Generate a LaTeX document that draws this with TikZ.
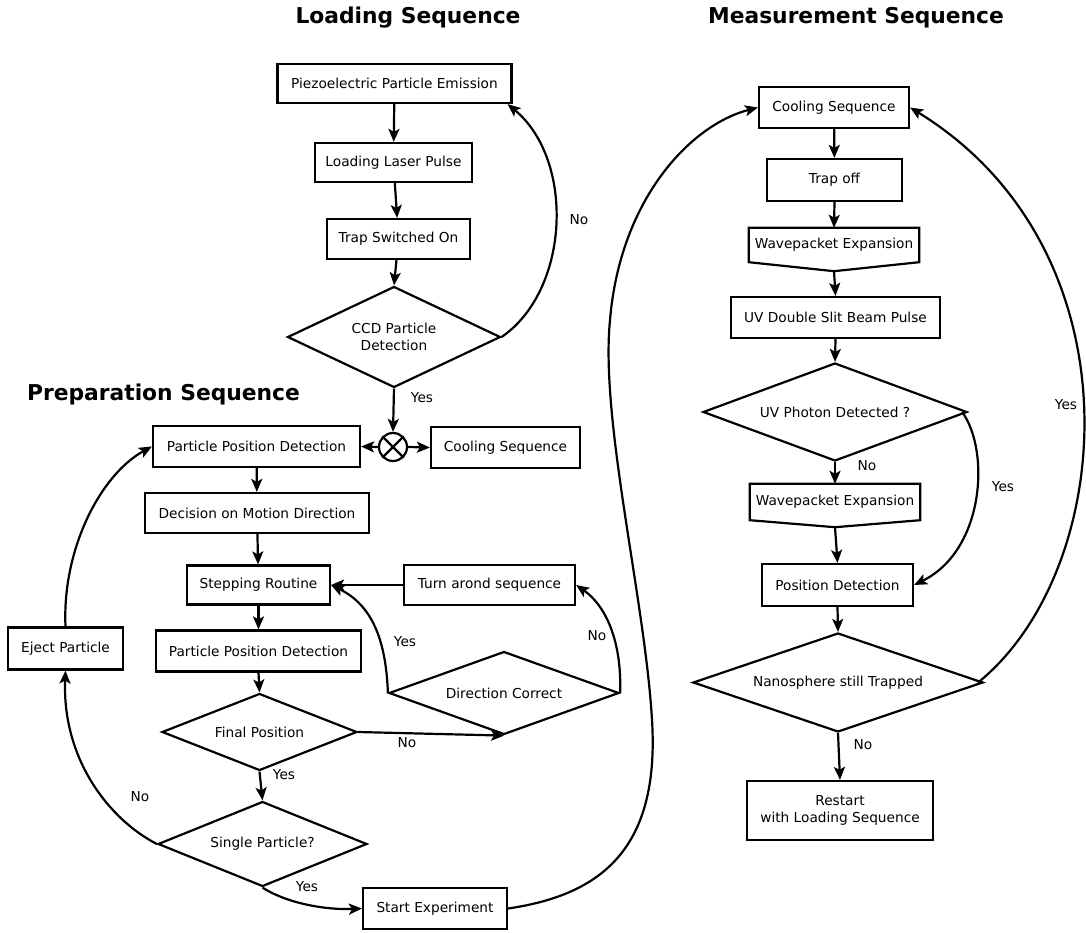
\documentclass[tikz,border=0pt]{standalone}
\usepackage{fontspec}
\setmainfont{DejaVu Sans}
\usetikzlibrary{shapes.geometric,arrows.meta,calc}
\newcommand\mytxt{\fontsize{13.7}{16.5}\selectfont}
\newcommand\mytitle{\fontsize{21.8}{26}\selectfont\bfseries}
\tikzset{
  ln/.style={line width=2.2pt},
  bx/.style 2 args={draw,ln,rectangle,inner sep=0pt,font=\mytxt,align=center,
    minimum width=#1pt,minimum height=#2pt},
  dm/.style 2 args={draw,ln,diamond,shape aspect=2.5,inner sep=0pt,font=\mytxt,align=center,
    minimum width=#1pt,minimum height=#2pt},
  wp/.style={rectangle,inner sep=0pt,font=\mytxt,minimum width=170pt},
  lbl/.style={inner sep=0pt,font=\mytxt},
  title/.style={inner sep=0pt,font=\mytitle},
  arr/.style={ln,-{Stealth[length=13pt,width=11pt,inset=3pt]}},
}
\begin{document}
\begin{tikzpicture}[x=1pt,y=-1pt]
\useasboundingbox (0,0) rectangle (1086,933);
% titles
\node[title] (tL) at (408,18) {Loading Sequence};
\node[title] (tM) at (856,18) {Measurement Sequence};
\node[title] (tP) at (163.5,394) {Preparation Sequence};
% loading
\node[bx={234}{39}] (piezo) at (394.5,83.5) {Piezoelectric Particle Emission};
\node[bx={157}{39}] (laser) at (393.5,162.5) {Loading Laser Pulse};
\node[bx={143}{40}] (trapon) at (398.5,239) {Trap Switched On};
\node[dm={213}{101}] (ccd) at (394,337) {CCD Particle\\Detection};
\node[draw,ln,circle,minimum size=28pt,inner sep=0pt] (xo) at (393,447) {};
\draw[ln] (xo.north west) -- (xo.south east) (xo.north east) -- (xo.south west);
% preparation
\node[bx={207}{41}] (ppd1) at (256.5,446.5) {Particle Position Detection};
\node[bx={149}{41}] (cool1) at (505.5,447.5) {Cooling Sequence};
\node[bx={224}{40}] (dmd) at (257,513) {Decision on Motion Direction};
\node[bx={143}{39}] (step) at (258.5,585) {Stepping Routine};
\node[bx={171}{40}] (turn) at (489.5,585) {Turn arond sequence};
\node[bx={205}{41}] (ppd2) at (258.5,651) {Particle Position Detection};
\node[bx={115}{42}] (eject) at (65.5,648.5) {Eject Particle};
\node[dm={195}{77}] (fpos) at (259.5,732) {Final Position};
\node[dm={230}{83}] (dcor) at (504,693) {Direction Correct};
\node[dm={209}{85}] (single) at (262.5,844) {Single Particle?};
\node[bx={144}{41}] (start) at (435,908.5) {Start Experiment};
% measurement
\node[bx={150}{41}] (cool2) at (834,107.5) {Cooling Sequence};
\node[bx={135}{42}] (trapoff) at (834.5,180) {Trap off};
\node[wp,minimum height=34pt] (we1) at (834,245) {Wavepacket Expansion};
\coordinate (we1p) at ([yshift=-9pt]we1.south);
\draw[ln] (we1.north west) -- (we1.north east) -- (we1.south east) -- (we1p) -- (we1.south west) -- cycle;
\node[bx={209}{41}] (uvds) at (835.5,317.5) {UV Double Slit Beam Pulse};
\node[dm={264}{98}] (uvph) at (835,412) {UV Photon Detected ?};
\node[wp,minimum height=36pt] (we2) at (835,502) {Wavepacket Expansion};
\coordinate (we2p) at ([yshift=-7pt]we2.south);
\draw[ln] (we2.north west) -- (we2.north east) -- (we2.south east) -- (we2p) -- (we2.south west) -- cycle;
\node[bx={151}{42}] (posdet) at (837.5,585) {Position Detection};
\node[dm={290}{99}] (nano) at (838,682.5) {Nanosphere still Trapped};
\node[bx={186}{59}] (restart) at (840,810.5) {Restart\\with Loading Sequence};
% straight connectors
\draw[arr] (piezo) -- (laser);
\draw[arr] (laser) -- (trapon);
\draw[arr] (trapon) -- (ccd.north);
\draw[arr] (ccd.south) -- (xo.north);
\draw[arr] (xo.west) -- (ppd1.east);
\draw[arr] (xo.east) -- (cool1.west);
\draw[arr] (ppd1) -- (dmd);
\draw[arr] (dmd) -- (step);
\draw[arr] (turn.west) -- (step.east);
\draw[arr] (step) -- (ppd2);
\draw[arr] (ppd2.south) -- (fpos.north);
\draw[arr] (fpos.south) -- (single.north);
\draw[arr] (fpos.east) -- (dcor.south);
\draw[arr] (cool2) -- (trapoff);
\draw[arr] (trapoff.south) -- (we1.north);
\draw[arr] (we1p) -- (uvds.north);
\draw[arr] (uvds.south) -- (uvph.north);
\draw[arr] (uvph.south) -- (we2.north);
\draw[arr] (we2p) -- (posdet.north);
\draw[arr] (posdet.south) -- (nano.north);
\draw[arr] (nano.south) -- (restart.north);
% curved connectors
\draw[arr] (ccd.east) .. controls (570,290) and (575,160) .. ([xshift=-5pt]piezo.south east);
\draw[arr] (dcor.west) .. controls (386,640) and (372,605) .. (step.east);
\draw[arr] (dcor.east) .. controls (622,640) and (605,605) .. (turn.east);
\draw[arr] (single.west) .. controls (110,820) and (62,760) .. (eject.south);
\draw[arr] (eject.north) .. controls (62,550) and (100,475) .. (ppd1.west);
\draw[arr] (single.south) .. controls (290,905) and (330,910) .. (start.west);
\draw[arr] (start.east) .. controls (600,895) and (660,850) .. (652,720)
  .. controls (645,600) and (600,420) .. (610,320)
  .. controls (620,200) and (690,125) .. (cool2.west);
\draw[arr] ([xshift=-6pt]uvph.east) .. controls (990,450) and (985,550) .. (posdet.east);
\draw[arr] ([xshift=-6pt]nano.east) .. controls (1117,570) and (1142,250) .. (cool2.east);
% labels
\node[lbl] (l1) at (579,220) {No};
\node[lbl] (l2) at (422,398) {Yes};
\node[lbl] (l3) at (405,642) {Yes};
\node[lbl] (l4) at (597,636) {No};
\node[lbl] (l5) at (407,743) {No};
\node[lbl] (l6) at (284,775) {Yes};
\node[lbl] (l7) at (140,797) {No};
\node[lbl] (l8) at (307,887) {Yes};
\node[lbl] (l9) at (867,466) {No};
\node[lbl] (l10) at (1003,487) {Yes};
\node[lbl] (l11) at (863,745) {No};
\node[lbl] (l12) at (1066,405) {Yes};
\end{tikzpicture}
\end{document}
